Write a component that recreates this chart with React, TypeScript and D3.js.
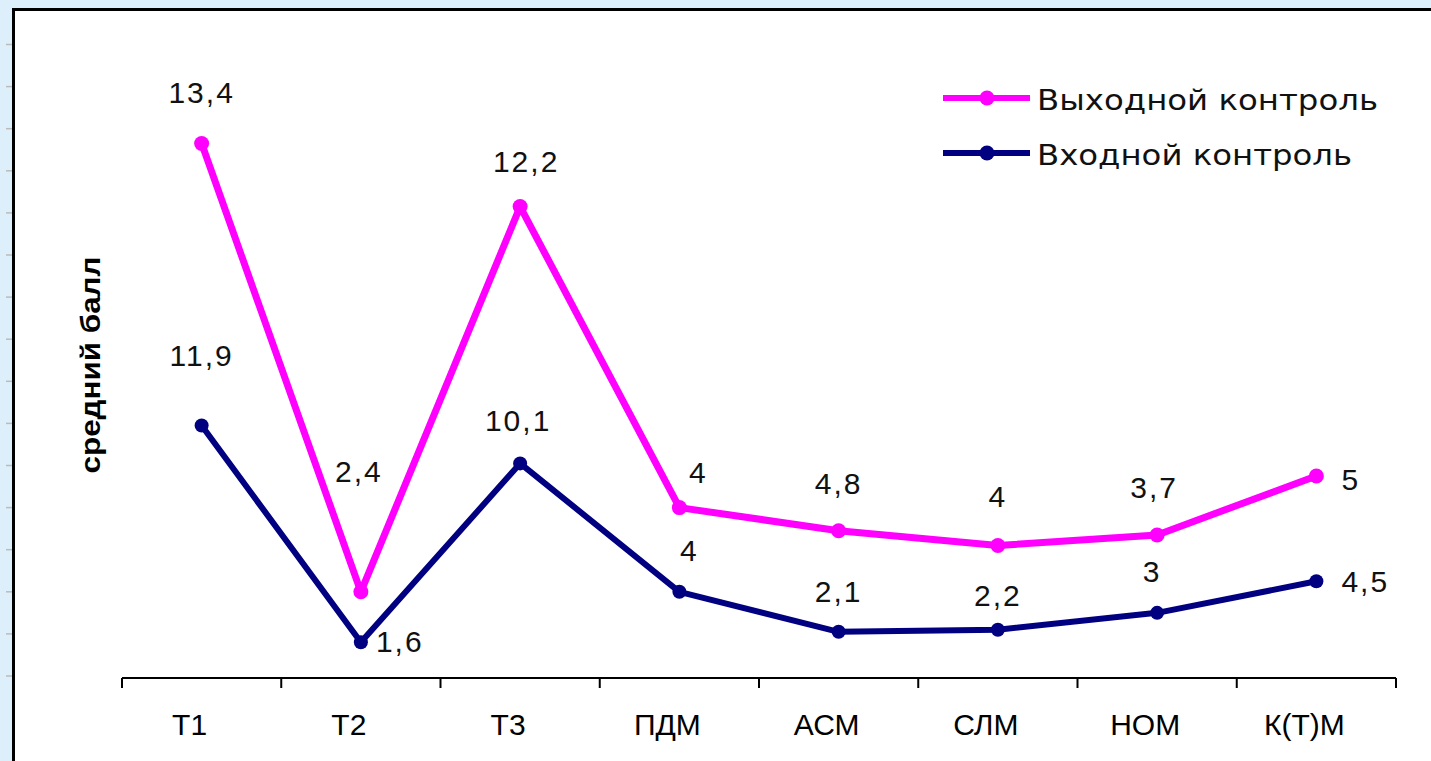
import React from "react";
import * as d3 from "d3";

const categories = ["T1", "T2", "T3", "ПДМ", "АСМ", "СЛМ", "НОМ", "К(Т)М"];
const inputValues = [11.9, 1.6, 10.1, 4, 2.1, 2.2, 3, 4.5]; // Входной контроль
const outputValues = [13.4, 2.4, 12.2, 4, 4.8, 4, 3.7, 5]; // Выходной контроль
const inputLabels = ["11,9", "1,6", "10,1", "4", "2,1", "2,2", "3", "4,5"];
const outputLabels = ["13,4", "2,4", "12,2", "4", "4,8", "4", "3,7", "5"];
const seriesNames = ["Выходной контроль", "Входной контроль"];
const yTicks = d3.range(0, 32, 2);

// label placement offsets (layout only)
const outOffsets: [number, number, string][] = [
  [0, -40, "middle"], [-2, -110, "middle"], [6, -35, "middle"], [19, -25, "middle"],
  [0, -37, "middle"], [0, -38, "middle"], [-3, -37, "middle"], [25, 14, "start"],
];
const inOffsets: [number, number, string][] = [
  [0, -60, "middle"], [15, 10, "start"], [-2, -32, "middle"], [10, -31, "middle"],
  [0, -30, "middle"], [0, -24, "middle"], [-5, -31, "middle"], [25, 11, "start"],
];

const W = 1431, H = 761;
const PINK = "#ff00ff";
const NAVY = "#000080";

export default function App() {
  const rows = categories.map((c, i) => ({ cat: c, input: inputValues[i], output: outputValues[i] }));
  const stack = d3.stack<any>().keys(["input", "output"])(rows);
  const inTop = stack[0].map((d) => d[1]);
  const outTop = stack[1].map((d) => d[1]);

  const x = d3.scaleBand().domain(categories).range([122, 1396]);
  const y = d3.scaleLinear().domain([0, 2]).range([676, 676 - 42.1]);
  const cx = (c: string) => (x(c) as number) + x.bandwidth() / 2;

  const line = d3.line<number>().x((_, i) => cx(categories[i])).y((v) => y(v));
  const axisY = y(0) + 2;
  const font = "'Liberation Sans', Arial, sans-serif";

  return (
    <svg width={W} height={H} style={{ position: "absolute", left: 0, top: 0 }}>
      <rect x={0} y={0} width={W} height={H} fill="#ddeffb" />
      <rect x={14} y={10} width={W - 14} height={H - 10} fill="#ffffff" />
      {/* y-axis ticks */}
      {yTicks.map((t) => (
        <line key={t} x1={6} x2={13} y1={y(t)} y2={y(t)} stroke="#bbbbbb" strokeWidth={1.5} />
      ))}
      <line x1={13} x2={W} y1={9.5} y2={9.5} stroke="#000" strokeWidth={3} />
      <line x1={13.5} x2={13.5} y1={8} y2={H} stroke="#000" strokeWidth={3} />

      {/* title */}
      <text
        transform={`translate(100,365) rotate(-90)`}
        textAnchor="middle"
        fontFamily={font}
        fontWeight="bold"
        fontSize={27}
        textLength={217}
        lengthAdjust="spacingAndGlyphs"
      >
        средний балл
      </text>

      {/* x axis */}
      <line x1={122} x2={1396} y1={axisY} y2={axisY} stroke="#000" strokeWidth={2} />
      {[...categories.map((c) => x(c) as number), 1396].map((t, i) => (
        <line key={i} x1={t} x2={t} y1={axisY} y2={axisY + 10} stroke="#000" strokeWidth={2} />
      ))}
      {categories.map((c) => (
        <text key={c} x={cx(c) - 12} y={735} textAnchor="middle" fontFamily={font} fontSize={30}>
          {c}
        </text>
      ))}

      {/* lines */}
      <path d={line(inTop) || ""} fill="none" stroke={NAVY} strokeWidth={6} strokeLinejoin="round" />
      <path d={line(outTop) || ""} fill="none" stroke={PINK} strokeWidth={7} strokeLinejoin="round" />
      {inTop.map((v, i) => (
        <circle key={"i" + i} cx={cx(categories[i])} cy={y(v)} r={7} fill={NAVY} />
      ))}
      {outTop.map((v, i) => (
        <circle key={"o" + i} cx={cx(categories[i])} cy={y(v)} r={7.5} fill={PINK} />
      ))}

      {/* data labels */}
      {outTop.map((v, i) => (
        <text
          key={"ol" + i}
          x={cx(categories[i]) + outOffsets[i][0]}
          y={y(v) + outOffsets[i][1]}
          textAnchor={outOffsets[i][2] as any}
          fontFamily={font}
          fontSize={30}
          letterSpacing={2}
          fill="#111"
        >
          {outputLabels[i]}
        </text>
      ))}
      {inTop.map((v, i) => (
        <text
          key={"il" + i}
          x={cx(categories[i]) + inOffsets[i][0]}
          y={y(v) + inOffsets[i][1]}
          textAnchor={inOffsets[i][2] as any}
          fontFamily={font}
          fontSize={30}
          letterSpacing={2}
          fill="#111"
        >
          {inputLabels[i]}
        </text>
      ))}

      {/* legend */}
      {seriesNames.map((name, i) => {
        const ly = 98 + i * 55;
        const col = i === 0 ? PINK : NAVY;
        return (
          <g key={name}>
            <line x1={943} x2={1030} y1={ly} y2={ly} stroke={col} strokeWidth={6} />
            <circle cx={987} cy={ly} r={7.5} fill={col} />
            <text
              x={1037}
              y={ly + 12}
              fontFamily="'DejaVu Sans', Verdana, sans-serif"
              fontSize={29}
              textLength={i === 0 ? 341 : 315}
              lengthAdjust="spacingAndGlyphs"
              fill="#111"
            >
              {name}
            </text>
          </g>
        );
      })}
    </svg>
  );
}
